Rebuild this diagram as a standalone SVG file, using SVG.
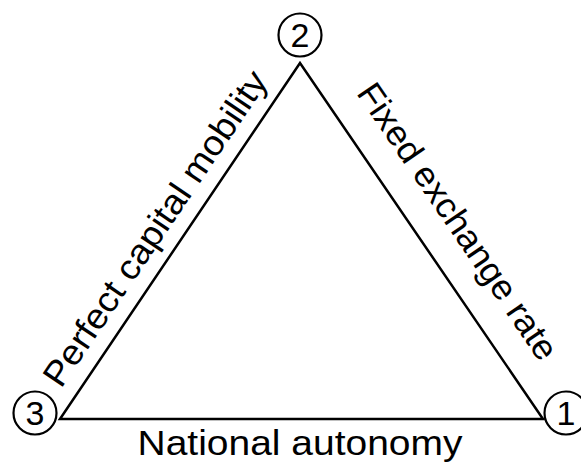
<svg xmlns="http://www.w3.org/2000/svg" width="581" height="466" viewBox="0 0 581 466">
<style>
.edge{fill:none;stroke:#000;stroke-width:2.5;stroke-linejoin:miter}
.ring{fill:#fff;stroke:#000;stroke-width:2.2}
.num{font-family:"Liberation Sans",Arial,sans-serif;font-size:34px;fill:#000;text-anchor:middle}
.lbl{font-family:"Liberation Sans",Arial,sans-serif;font-size:35px;fill:#000;text-anchor:middle}
</style>
<rect width="581" height="466" fill="#fff"/>
<g id="connectors">
<path class="edge" d="M60,419 L300,63 L543,419 Z"/>
</g>
<g id="node2"><circle class="ring" cx="300" cy="35" r="21.5"/><text class="num" x="300" y="47">2</text></g>
<g id="node3"><circle class="ring" cx="35" cy="413" r="21.5"/><text class="num" x="35" y="425">3</text></g>
<g id="node1"><circle class="ring" cx="566" cy="413" r="21.5"/><text class="num" x="566" y="425">1</text></g>
<g id="labels">
<text class="lbl" transform="translate(165,235) rotate(-56)" textLength="372" lengthAdjust="spacingAndGlyphs">Perfect capital mobility</text>
<text class="lbl" transform="translate(448,228) rotate(55.7)" textLength="327" lengthAdjust="spacingAndGlyphs">Fixed exchange rate</text>
<text class="lbl" x="300" y="455" textLength="325" lengthAdjust="spacingAndGlyphs">National autonomy</text>
</g>
</svg>
